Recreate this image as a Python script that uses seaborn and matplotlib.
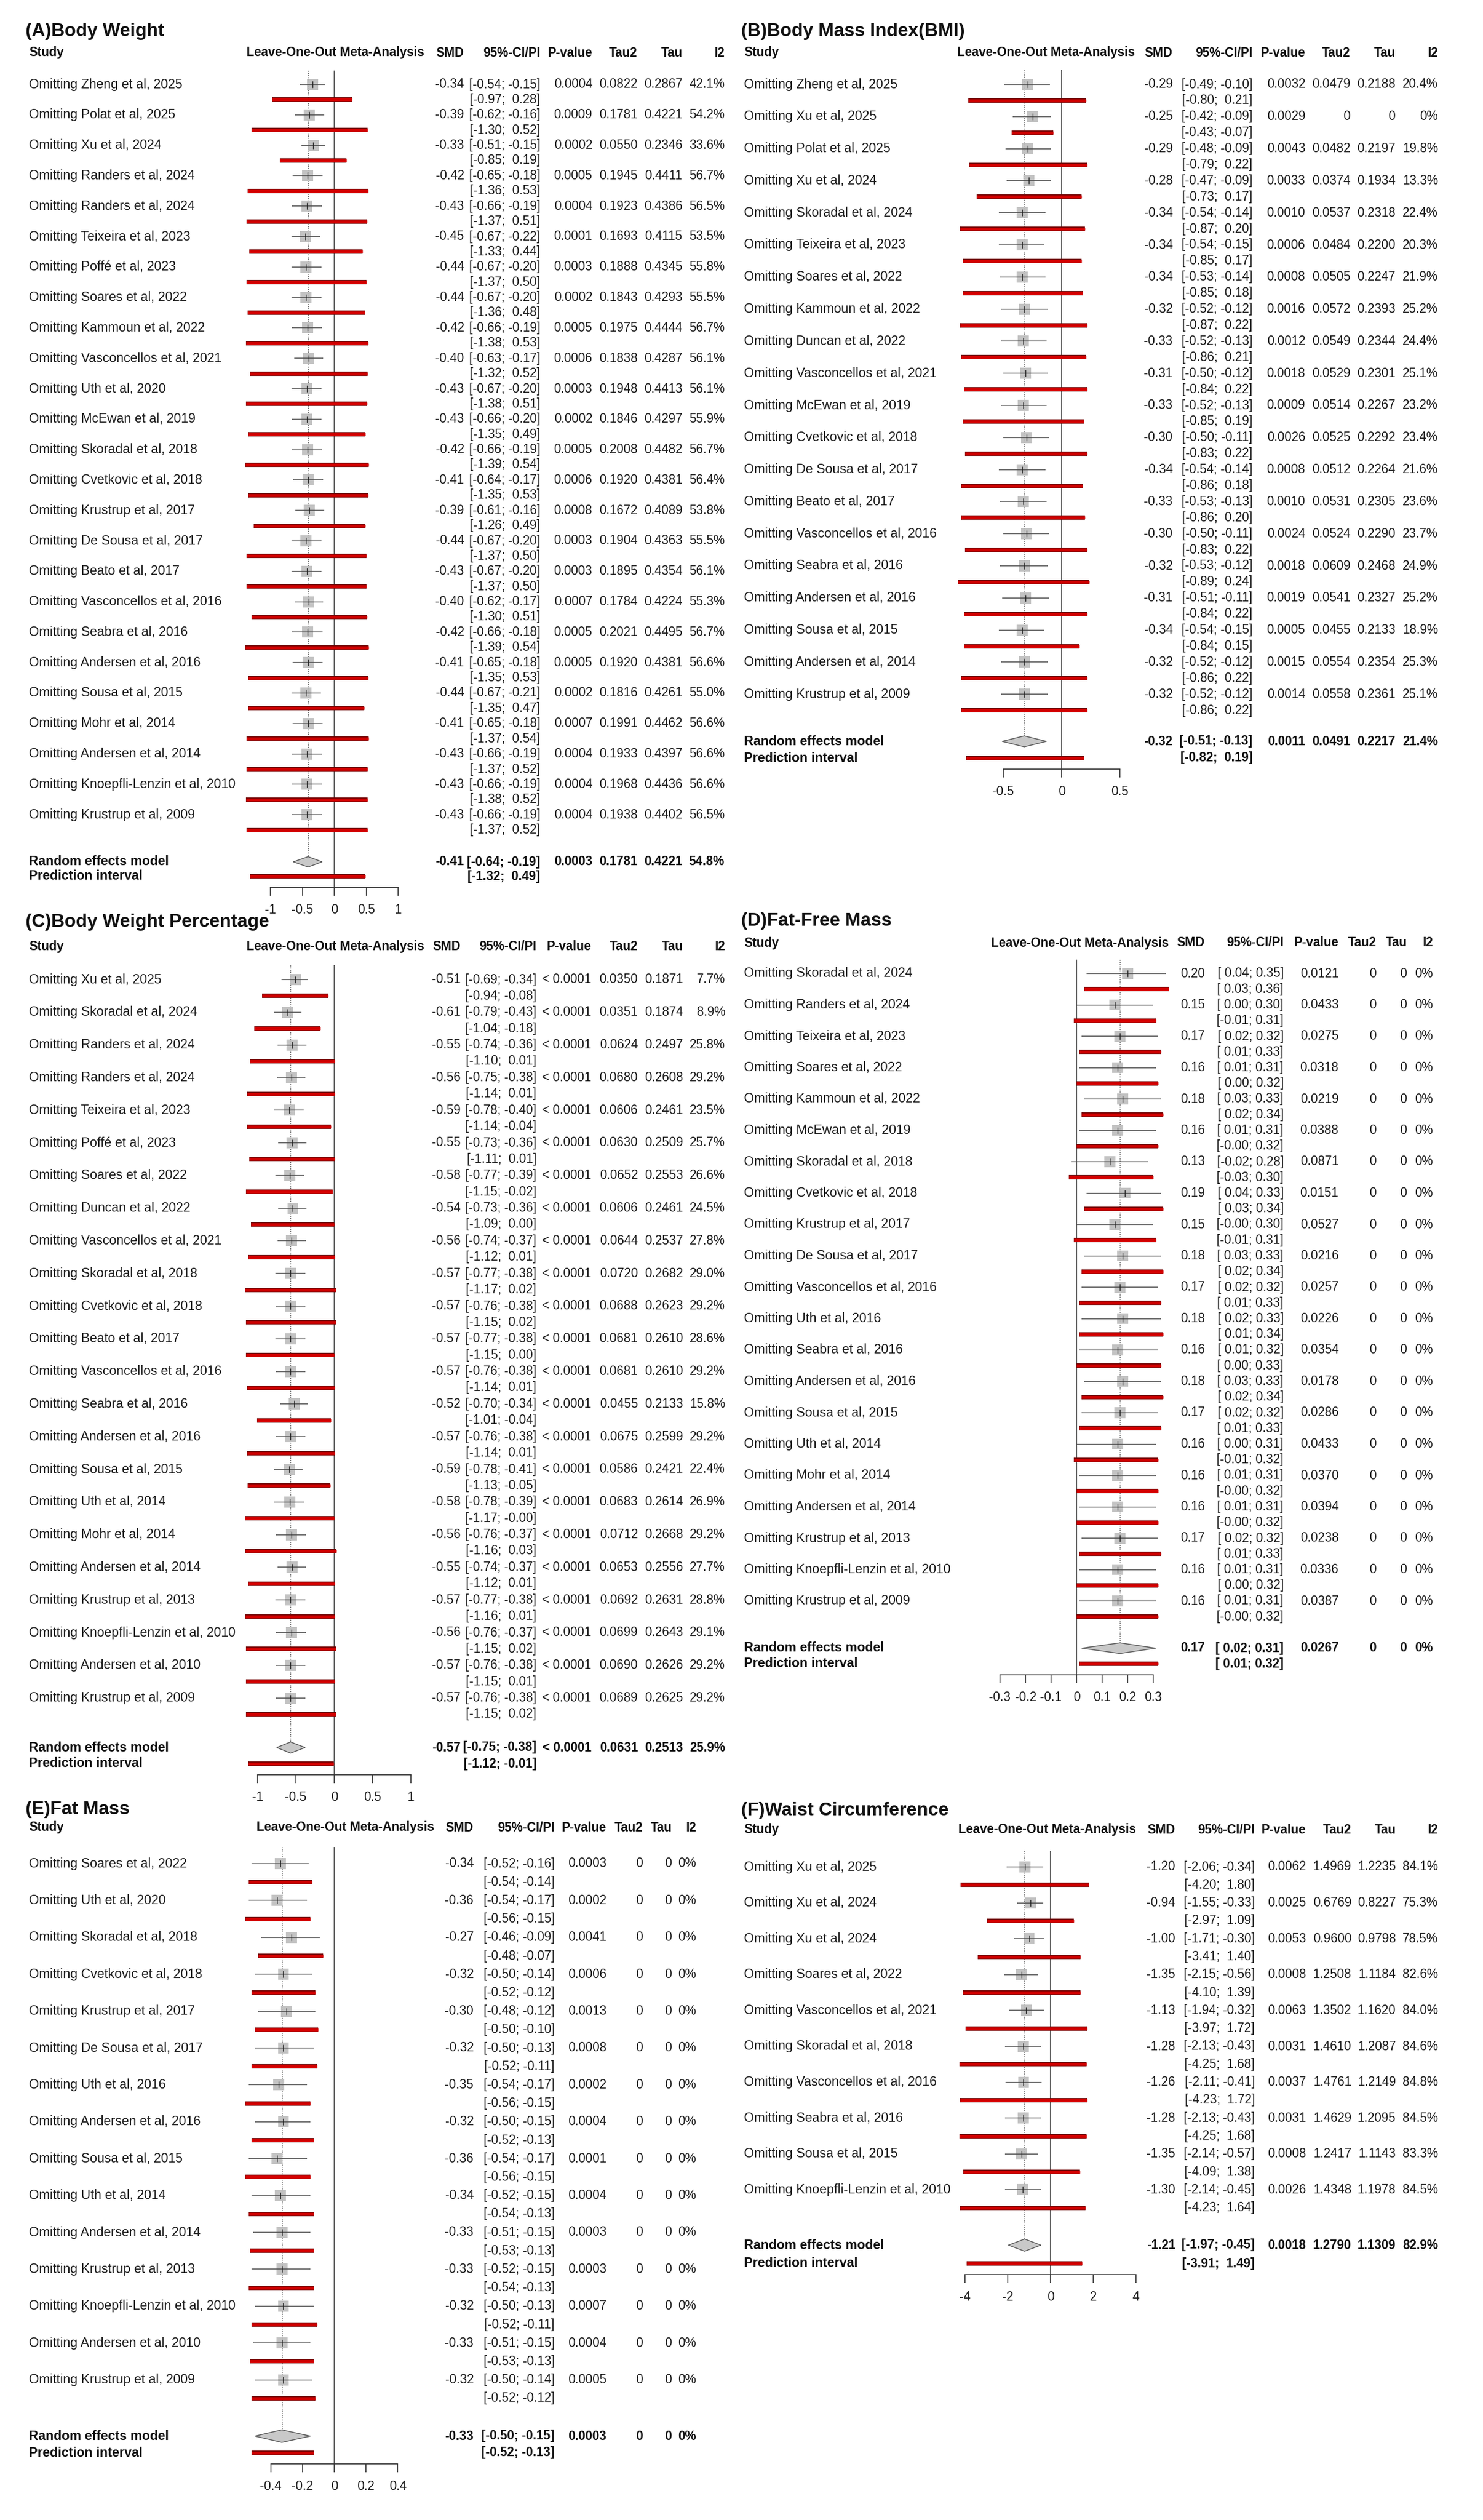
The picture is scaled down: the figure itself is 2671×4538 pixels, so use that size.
import numpy as np
import pandas as pd
import matplotlib
matplotlib.use("Agg")
import matplotlib.pyplot as plt
import matplotlib.patheffects as pe
from matplotlib.ticker import FuncFormatter
import seaborn as sns

# ============================ DATA ============================
# (A) Body Weight
A_studies = ["Zheng et al, 2025", "Polat et al, 2025", "Xu et al, 2024", "Randers et al, 2024",
             "Randers et al, 2024", "Teixeira et al, 2023", "Poffé et al, 2023", "Soares et al, 2022",
             "Kammoun et al, 2022", "Vasconcellos et al, 2021", "Uth et al, 2020", "McEwan et al, 2019",
             "Skoradal et al, 2018", "Cvetkovic et al, 2018", "Krustrup et al, 2017", "De Sousa et al, 2017",
             "Beato et al, 2017", "Vasconcellos et al, 2016", "Seabra et al, 2016", "Andersen et al, 2016",
             "Sousa et al, 2015", "Mohr et al, 2014", "Andersen et al, 2014", "Knoepfli-Lenzin et al, 2010",
             "Krustrup et al, 2009"]
A_smd = [-0.34, -0.39, -0.33, -0.42, -0.43, -0.45, -0.44, -0.44, -0.42, -0.40, -0.43, -0.43, -0.42,
         -0.41, -0.39, -0.44, -0.43, -0.40, -0.42, -0.41, -0.44, -0.41, -0.43, -0.43, -0.43]
A_ci_lo = [-0.54, -0.62, -0.51, -0.65, -0.66, -0.67, -0.67, -0.67, -0.66, -0.63, -0.67, -0.66, -0.66,
           -0.64, -0.61, -0.67, -0.67, -0.62, -0.66, -0.65, -0.67, -0.65, -0.66, -0.66, -0.66]
A_ci_hi = [-0.15, -0.16, -0.15, -0.18, -0.19, -0.22, -0.20, -0.20, -0.19, -0.17, -0.20, -0.20, -0.19,
           -0.17, -0.16, -0.20, -0.20, -0.17, -0.18, -0.18, -0.21, -0.18, -0.19, -0.19, -0.19]
A_pi_lo = [-0.97, -1.30, -0.85, -1.36, -1.37, -1.33, -1.37, -1.36, -1.38, -1.32, -1.38, -1.35, -1.39,
           -1.35, -1.26, -1.37, -1.37, -1.30, -1.39, -1.35, -1.35, -1.37, -1.37, -1.38, -1.37]
A_pi_hi = [0.28, 0.52, 0.19, 0.53, 0.51, 0.44, 0.50, 0.48, 0.53, 0.52, 0.51, 0.49, 0.54,
           0.53, 0.49, 0.50, 0.50, 0.51, 0.54, 0.53, 0.47, 0.54, 0.52, 0.52, 0.52]
A_p = ["0.0004", "0.0009", "0.0002", "0.0005", "0.0004", "0.0001", "0.0003", "0.0002", "0.0005",
       "0.0006", "0.0003", "0.0002", "0.0005", "0.0006", "0.0008", "0.0003", "0.0003", "0.0007",
       "0.0005", "0.0005", "0.0002", "0.0007", "0.0004", "0.0004", "0.0004"]
A_tau2 = [0.0822, 0.1781, 0.0550, 0.1945, 0.1923, 0.1693, 0.1888, 0.1843, 0.1975, 0.1838, 0.1948,
          0.1846, 0.2008, 0.1920, 0.1672, 0.1904, 0.1895, 0.1784, 0.2021, 0.1920, 0.1816, 0.1991,
          0.1933, 0.1968, 0.1938]
A_tau = [0.2867, 0.4221, 0.2346, 0.4411, 0.4386, 0.4115, 0.4345, 0.4293, 0.4444, 0.4287, 0.4413,
         0.4297, 0.4482, 0.4381, 0.4089, 0.4363, 0.4354, 0.4224, 0.4495, 0.4381, 0.4261, 0.4462,
         0.4397, 0.4436, 0.4402]
A_i2 = [42.1, 54.2, 33.6, 56.7, 56.5, 53.5, 55.8, 55.5, 56.7, 56.1, 56.1, 55.9, 56.7, 56.4, 53.8,
        55.5, 56.1, 55.3, 56.7, 56.6, 55.0, 56.6, 56.6, 56.6, 56.5]
A_re = [-0.41, -0.64, -0.19, -1.32, 0.49]      # smd, ci lo, ci hi, pi lo, pi hi
A_re_stats = ["0.0003", 0.1781, 0.4221, 54.8]  # p, tau2, tau, i2

# (B) Body Mass Index
B_studies = ["Zheng et al, 2025", "Xu et al, 2025", "Polat et al, 2025", "Xu et al, 2024",
             "Skoradal et al, 2024", "Teixeira et al, 2023", "Soares et al, 2022", "Kammoun et al, 2022",
             "Duncan et al, 2022", "Vasconcellos et al, 2021", "McEwan et al, 2019", "Cvetkovic et al, 2018",
             "De Sousa et al, 2017", "Beato et al, 2017", "Vasconcellos et al, 2016", "Seabra et al, 2016",
             "Andersen et al, 2016", "Sousa et al, 2015", "Andersen et al, 2014", "Krustrup et al, 2009"]
B_smd = [-0.29, -0.25, -0.29, -0.28, -0.34, -0.34, -0.34, -0.32, -0.33, -0.31, -0.33, -0.30, -0.34,
         -0.33, -0.30, -0.32, -0.31, -0.34, -0.32, -0.32]
B_ci_lo = [-0.49, -0.42, -0.48, -0.47, -0.54, -0.54, -0.53, -0.52, -0.52, -0.50, -0.52, -0.50, -0.54,
           -0.53, -0.50, -0.53, -0.51, -0.54, -0.52, -0.52]
B_ci_hi = [-0.10, -0.09, -0.09, -0.09, -0.14, -0.15, -0.14, -0.12, -0.13, -0.12, -0.13, -0.11, -0.14,
           -0.13, -0.11, -0.12, -0.11, -0.15, -0.12, -0.12]
B_pi_lo = [-0.80, -0.43, -0.79, -0.73, -0.87, -0.85, -0.85, -0.87, -0.86, -0.84, -0.85, -0.83, -0.86,
           -0.86, -0.83, -0.89, -0.84, -0.84, -0.86, -0.86]
B_pi_hi = [0.21, -0.07, 0.22, 0.17, 0.20, 0.17, 0.18, 0.22, 0.21, 0.22, 0.19, 0.22, 0.18,
           0.20, 0.22, 0.24, 0.22, 0.15, 0.22, 0.22]
B_p = ["0.0032", "0.0029", "0.0043", "0.0033", "0.0010", "0.0006", "0.0008", "0.0016", "0.0012",
       "0.0018", "0.0009", "0.0026", "0.0008", "0.0010", "0.0024", "0.0018", "0.0019", "0.0005",
       "0.0015", "0.0014"]
B_tau2 = [0.0479, 0, 0.0482, 0.0374, 0.0537, 0.0484, 0.0505, 0.0572, 0.0549, 0.0529, 0.0514, 0.0525,
          0.0512, 0.0531, 0.0524, 0.0609, 0.0541, 0.0455, 0.0554, 0.0558]
B_tau = [0.2188, 0, 0.2197, 0.1934, 0.2318, 0.2200, 0.2247, 0.2393, 0.2344, 0.2301, 0.2267, 0.2292,
         0.2264, 0.2305, 0.2290, 0.2468, 0.2327, 0.2133, 0.2354, 0.2361]
B_i2 = [20.4, 0, 19.8, 13.3, 22.4, 20.3, 21.9, 25.2, 24.4, 25.1, 23.2, 23.4, 21.6, 23.6, 23.7, 24.9,
        25.2, 18.9, 25.3, 25.1]
B_re = [-0.32, -0.51, -0.13, -0.82, 0.19]
B_re_stats = ["0.0011", 0.0491, 0.2217, 21.4]

# (C) Body Weight Percentage
C_studies = ["Xu et al, 2025", "Skoradal et al, 2024", "Randers et al, 2024", "Randers et al, 2024",
             "Teixeira et al, 2023", "Poffé et al, 2023", "Soares et al, 2022", "Duncan et al, 2022",
             "Vasconcellos et al, 2021", "Skoradal et al, 2018", "Cvetkovic et al, 2018", "Beato et al, 2017",
             "Vasconcellos et al, 2016", "Seabra et al, 2016", "Andersen et al, 2016", "Sousa et al, 2015",
             "Uth et al, 2014", "Mohr et al, 2014", "Andersen et al, 2014", "Krustrup et al, 2013",
             "Knoepfli-Lenzin et al, 2010", "Andersen et al, 2010", "Krustrup et al, 2009"]
C_smd = [-0.51, -0.61, -0.55, -0.56, -0.59, -0.55, -0.58, -0.54, -0.56, -0.57, -0.57, -0.57, -0.57,
         -0.52, -0.57, -0.59, -0.58, -0.56, -0.55, -0.57, -0.56, -0.57, -0.57]
C_ci_lo = [-0.69, -0.79, -0.74, -0.75, -0.78, -0.73, -0.77, -0.73, -0.74, -0.77, -0.76, -0.77, -0.76,
           -0.70, -0.76, -0.78, -0.78, -0.76, -0.74, -0.77, -0.76, -0.76, -0.76]
C_ci_hi = [-0.34, -0.43, -0.36, -0.38, -0.40, -0.36, -0.39, -0.36, -0.37, -0.38, -0.38, -0.38, -0.38,
           -0.34, -0.38, -0.41, -0.39, -0.37, -0.37, -0.38, -0.37, -0.38, -0.38]
C_pi_lo = [-0.94, -1.04, -1.10, -1.14, -1.14, -1.11, -1.15, -1.09, -1.12, -1.17, -1.15, -1.15, -1.14,
           -1.01, -1.14, -1.13, -1.17, -1.16, -1.12, -1.16, -1.15, -1.15, -1.15]
C_pi_hi = [-0.08, -0.18, 0.01, 0.01, -0.04, 0.01, -0.02, 0.00, 0.01, 0.02, 0.02, 0.00, 0.01,
           -0.04, 0.01, -0.05, -0.00, 0.03, 0.01, 0.01, 0.02, 0.01, 0.02]
C_p = ["< 0.0001"] * 23
C_tau2 = [0.0350, 0.0351, 0.0624, 0.0680, 0.0606, 0.0630, 0.0652, 0.0606, 0.0644, 0.0720, 0.0688,
          0.0681, 0.0681, 0.0455, 0.0675, 0.0586, 0.0683, 0.0712, 0.0653, 0.0692, 0.0699, 0.0690, 0.0689]
C_tau = [0.1871, 0.1874, 0.2497, 0.2608, 0.2461, 0.2509, 0.2553, 0.2461, 0.2537, 0.2682, 0.2623,
         0.2610, 0.2610, 0.2133, 0.2599, 0.2421, 0.2614, 0.2668, 0.2556, 0.2631, 0.2643, 0.2626, 0.2625]
C_i2 = [7.7, 8.9, 25.8, 29.2, 23.5, 25.7, 26.6, 24.5, 27.8, 29.0, 29.2, 28.6, 29.2, 15.8, 29.2, 22.4,
        26.9, 29.2, 27.7, 28.8, 29.1, 29.2, 29.2]
C_re = [-0.57, -0.75, -0.38, -1.12, -0.01]
C_re_stats = ["< 0.0001", 0.0631, 0.2513, 25.9]

# (D) Fat-Free Mass
D_studies = ["Skoradal et al, 2024", "Randers et al, 2024", "Teixeira et al, 2023", "Soares et al, 2022",
             "Kammoun et al, 2022", "McEwan et al, 2019", "Skoradal et al, 2018", "Cvetkovic et al, 2018",
             "Krustrup et al, 2017", "De Sousa et al, 2017", "Vasconcellos et al, 2016", "Uth et al, 2016",
             "Seabra et al, 2016", "Andersen et al, 2016", "Sousa et al, 2015", "Uth et al, 2014",
             "Mohr et al, 2014", "Andersen et al, 2014", "Krustrup et al, 2013",
             "Knoepfli-Lenzin et al, 2010", "Krustrup et al, 2009"]
D_smd = [0.20, 0.15, 0.17, 0.16, 0.18, 0.16, 0.13, 0.19, 0.15, 0.18, 0.17, 0.18, 0.16, 0.18, 0.17,
         0.16, 0.16, 0.16, 0.17, 0.16, 0.16]
D_ci_lo = [0.04, 0.00, 0.02, 0.01, 0.03, 0.01, -0.02, 0.04, -0.00, 0.03, 0.02, 0.02, 0.01, 0.03, 0.02,
           0.00, 0.01, 0.01, 0.02, 0.01, 0.01]
D_ci_hi = [0.35, 0.30, 0.32, 0.31, 0.33, 0.31, 0.28, 0.33, 0.30, 0.33, 0.32, 0.33, 0.32, 0.33, 0.32,
           0.31, 0.31, 0.31, 0.32, 0.31, 0.31]
D_pi_lo = [0.03, -0.01, 0.01, 0.00, 0.02, -0.00, -0.03, 0.03, -0.01, 0.02, 0.01, 0.01, 0.00, 0.02,
           0.01, -0.01, -0.00, -0.00, 0.01, 0.00, -0.00]
D_pi_hi = [0.36, 0.31, 0.33, 0.32, 0.34, 0.32, 0.30, 0.34, 0.31, 0.34, 0.33, 0.34, 0.33, 0.34, 0.33,
           0.32, 0.32, 0.32, 0.33, 0.32, 0.32]
D_p = ["0.0121", "0.0433", "0.0275", "0.0318", "0.0219", "0.0388", "0.0871", "0.0151", "0.0527",
       "0.0216", "0.0257", "0.0226", "0.0354", "0.0178", "0.0286", "0.0433", "0.0370", "0.0394",
       "0.0238", "0.0336", "0.0387"]
D_tau2 = [0] * 21
D_tau = [0] * 21
D_i2 = [0] * 21
D_re = [0.17, 0.02, 0.31, 0.01, 0.32]
D_re_stats = ["0.0267", 0, 0, 0]

# (E) Fat Mass
E_studies = ["Soares et al, 2022", "Uth et al, 2020", "Skoradal et al, 2018", "Cvetkovic et al, 2018",
             "Krustrup et al, 2017", "De Sousa et al, 2017", "Uth et al, 2016", "Andersen et al, 2016",
             "Sousa et al, 2015", "Uth et al, 2014", "Andersen et al, 2014", "Krustrup et al, 2013",
             "Knoepfli-Lenzin et al, 2010", "Andersen et al, 2010", "Krustrup et al, 2009"]
E_smd = [-0.34, -0.36, -0.27, -0.32, -0.30, -0.32, -0.35, -0.32, -0.36, -0.34, -0.33, -0.33, -0.32,
         -0.33, -0.32]
E_ci_lo = [-0.52, -0.54, -0.46, -0.50, -0.48, -0.50, -0.54, -0.50, -0.54, -0.52, -0.51, -0.52, -0.50,
           -0.51, -0.50]
E_ci_hi = [-0.16, -0.17, -0.09, -0.14, -0.12, -0.13, -0.17, -0.15, -0.17, -0.15, -0.15, -0.15, -0.13,
           -0.15, -0.14]
E_pi_lo = [-0.54, -0.56, -0.48, -0.52, -0.50, -0.52, -0.56, -0.52, -0.56, -0.54, -0.53, -0.54, -0.52,
           -0.53, -0.52]
E_pi_hi = [-0.14, -0.15, -0.07, -0.12, -0.10, -0.11, -0.15, -0.13, -0.15, -0.13, -0.13, -0.13, -0.11,
           -0.13, -0.12]
E_p = ["0.0003", "0.0002", "0.0041", "0.0006", "0.0013", "0.0008", "0.0002", "0.0004", "0.0001",
       "0.0004", "0.0003", "0.0003", "0.0007", "0.0004", "0.0005"]
E_tau2 = [0] * 15
E_tau = [0] * 15
E_i2 = [0] * 15
E_re = [-0.33, -0.50, -0.15, -0.52, -0.13]
E_re_stats = ["0.0003", 0, 0, 0]

# (F) Waist Circumference
F_studies = ["Xu et al, 2025", "Xu et al, 2024", "Xu et al, 2024", "Soares et al, 2022",
             "Vasconcellos et al, 2021", "Skoradal et al, 2018", "Vasconcellos et al, 2016",
             "Seabra et al, 2016", "Sousa et al, 2015", "Knoepfli-Lenzin et al, 2010"]
F_smd = [-1.20, -0.94, -1.00, -1.35, -1.13, -1.28, -1.26, -1.28, -1.35, -1.30]
F_ci_lo = [-2.06, -1.55, -1.71, -2.15, -1.94, -2.13, -2.11, -2.13, -2.14, -2.14]
F_ci_hi = [-0.34, -0.33, -0.30, -0.56, -0.32, -0.43, -0.41, -0.43, -0.57, -0.45]
F_pi_lo = [-4.20, -2.97, -3.41, -4.10, -3.97, -4.25, -4.23, -4.25, -4.09, -4.23]
F_pi_hi = [1.80, 1.09, 1.40, 1.39, 1.72, 1.68, 1.72, 1.68, 1.38, 1.64]
F_p = ["0.0062", "0.0025", "0.0053", "0.0008", "0.0063", "0.0031", "0.0037", "0.0031", "0.0008", "0.0026"]
F_tau2 = [1.4969, 0.6769, 0.9600, 1.2508, 1.3502, 1.4610, 1.4761, 1.4629, 1.2417, 1.4348]
F_tau = [1.2235, 0.8227, 0.9798, 1.1184, 1.1620, 1.2087, 1.2149, 1.2095, 1.1143, 1.1978]
F_i2 = [84.1, 75.3, 78.5, 82.6, 84.0, 84.6, 84.8, 84.5, 83.3, 84.5]
F_re = [-1.21, -1.97, -0.45, -3.91, 1.49]
F_re_stats = ["0.0018", 1.2790, 1.1309, 82.9]

titles = ["(A)Body Weight", "(B)Body Mass Index(BMI)", "(C)Body Weight Percentage",
          "(D)Fat-Free Mass", "(E)Fat Mass", "(F)Waist Circumference"]
ticks_A = [-1, -0.5, 0, 0.5, 1]
ticks_B = [-0.5, 0, 0.5]
ticks_C = [-1, -0.5, 0, 0.5, 1]
ticks_D = [-0.3, -0.2, -0.1, 0, 0.1, 0.2, 0.3]
ticks_E = [-0.4, -0.2, 0, 0.2, 0.4]
ticks_F = [-4, -2, 0, 2, 4]

# ============================ STYLE ============================
sns.set_theme(style="white")
plt.rcParams["font.family"] = ["Liberation Sans", "DejaVu Sans"]
plt.rcParams["axes.unicode_minus"] = False

W, H = 2671, 4538
fig = plt.figure(figsize=(W / 100, H / 100), dpi=100)
fig.patch.set_facecolor("white")

FS = 16.3      # numbers
NFS = 16.9     # study names / labels
TFS = 24
TXT = "#1e1e1e"


def fx(x):
    return x / W


def fy(y):
    return 1 - y / H


def f4(v):
    return "0" if v == 0 else f"{v:.4f}"


def fi2(v):
    return "0%" if v == 0 else f"{v:.1f}%"


def ci_strings(lo, hi):
    los = [f"{v:.2f}" for v in lo]
    his = [f"{v:.2f}" for v in hi]
    wl = max(len(s) for s in los)
    wh = max(len(s) for s in his)
    return [f"[{a.rjust(wl)}; {b.rjust(wh)}]" for a, b in zip(los, his)]


def draw_panel(title, studies, smd, ci_lo, ci_hi, pi_lo, pi_hi, pvals, tau2, tau, i2,
               re, re_stats, ticks, L):
    n = len(studies)
    sp = L["sp"]
    df = pd.DataFrame({"study": studies, "smd": smd, "lo": ci_lo, "hi": ci_hi,
                       "plo": pi_lo, "phi": pi_hi})
    df["y"] = L["row1"] + sp * np.arange(n)
    df["ypi"] = df["y"] + 0.5 * sp
    re_y, pi_y = L["re_y"], L["pi_y"]
    axis_y = pi_y + L.get("axgap", 20)
    top_y = L["row1"] - 0.45 * sp
    zero, unit = L["zero"], L["unit"]
    xlo, xhi = L["xlim"]
    left_px = zero + xlo * unit
    right_px = zero + xhi * unit

    ax = fig.add_axes([fx(left_px), fy(axis_y), (right_px - left_px) / W, (axis_y - top_y) / H])
    ax.set_xlim(xlo, xhi)
    ax.set_ylim(axis_y, top_y)
    ax.patch.set_alpha(0)

    dh = 0.17 * sp
    # reference lines
    ax.vlines(0, top_y, axis_y, color="#4a4a4a", lw=1.2, zorder=1)
    ax.vlines(re[0], top_y, re_y - dh, color="#555555", lw=1.0, linestyles=(0, (1.2, 1.6)), zorder=1)
    # prediction intervals (red)
    red_fx = [pe.Stroke(linewidth=5.6, foreground="#6e0000"), pe.Normal()]
    ax.hlines(df["ypi"], df["plo"], df["phi"], color="#d10000", lw=3.8, zorder=2,
              path_effects=red_fx, capstyle="butt")
    # squares + CI
    sns.scatterplot(data=df, x="smd", y="y", marker="s", s=L.get("sq", 205), color="#bdbdbd",
                    edgecolor="none", alpha=0.9, ax=ax, legend=False, zorder=3)
    ax.hlines(df["y"], df["lo"], df["hi"], color="#505050", lw=1.1, zorder=4)
    ax.vlines(df["smd"], df["y"] - 6, df["y"] + 6, color="#202020", lw=1.0, zorder=5)
    # overall diamond and its prediction interval
    ax.fill([re[1], re[0], re[2], re[0]], [re_y, re_y - dh, re_y, re_y + dh],
            facecolor="#c8c8c8", edgecolor="#5a5a5a", lw=1.1, zorder=3)
    ax.hlines([pi_y], [re[3]], [re[4]], color="#d10000", lw=3.8, zorder=2,
              path_effects=red_fx, capstyle="butt")

    # axis
    for s in ["left", "right", "top"]:
        ax.spines[s].set_visible(False)
    ax.spines["bottom"].set_bounds(ticks[0], ticks[-1])
    ax.spines["bottom"].set_color("#333333")
    ax.spines["bottom"].set_linewidth(1.2)
    ax.set_xticks(ticks)
    ax.xaxis.set_major_formatter(FuncFormatter(lambda v, p: f"{v:g}"))
    ax.set_yticks([])
    ax.set_xlabel("")
    ax.set_ylabel("")
    ax.tick_params(axis="x", direction="out", length=11, width=1.2, color="#333333",
                   pad=10, labelsize=FS, labelcolor=TXT, bottom=True)
    ax.grid(False)

    # ---- text ----
    fig.text(fx(L["title_x"]), fy(L["title_y"]), title, fontsize=TFS, fontweight="bold",
             ha="left", va="center", color="#111111")
    hy = fy(L["head_y"])
    hkw = dict(fontsize=FS, fontweight="bold", va="center", color="#111111")
    fig.text(fx(L["study_x"]), hy, "Study", ha="left", **hkw)
    fig.text(fx(L["loo_c"]), hy, "Leave-One-Out Meta-Analysis", ha="center", **hkw)
    fig.text(fx(L["smd_r"]), hy, "SMD", ha="right", **hkw)
    fig.text(fx(L["ci_r"]), hy, "95%-CI/PI", ha="right", **hkw)
    fig.text(fx(L["p_r"]), hy, "P-value", ha="right", **hkw)
    fig.text(fx(L["tau2_r"]), hy, "Tau2", ha="right", **hkw)
    fig.text(fx(L["tau_r"]), hy, "Tau", ha="right", **hkw)
    fig.text(fx(L["i2_r"]), hy, "I2", ha="right", **hkw)

    all_lo = list(ci_lo) + list(pi_lo) + [re[1], re[3]]
    all_hi = list(ci_hi) + list(pi_hi) + [re[2], re[4]]
    cis = ci_strings(all_lo, all_hi)
    ci_s, pi_s = cis[:n], cis[n:2 * n]
    re_ci_s, re_pi_s = cis[2 * n], cis[2 * n + 1]

    rkw = dict(fontsize=FS, va="center", color=TXT)
    for i in range(n):
        y = fy(df["y"].iloc[i])
        ypi = fy(df["ypi"].iloc[i])
        fig.text(fx(L["study_x"]), y, "Omitting " + studies[i], ha="left",
                 fontsize=NFS, va="center", color=TXT)
        fig.text(fx(L["smd_r"]), y, f"{smd[i]:.2f}", ha="right", **rkw)
        fig.text(fx(L["ci_r"]), y, ci_s[i], ha="right", **rkw)
        fig.text(fx(L["ci_r"]), ypi, pi_s[i], ha="right", **rkw)
        fig.text(fx(L["p_r"]), y, pvals[i], ha="right", **rkw)
        fig.text(fx(L["tau2_r"]), y, f4(tau2[i]), ha="right", **rkw)
        fig.text(fx(L["tau_r"]), y, f4(tau[i]), ha="right", **rkw)
        fig.text(fx(L["i2_r"]), y, fi2(i2[i]), ha="right", **rkw)

    bkw = dict(fontsize=FS, va="center", color="#111111", fontweight="bold")
    y, ypi = fy(re_y), fy(pi_y)
    fig.text(fx(L["study_x"]), y, "Random effects model", ha="left",
             fontsize=NFS, va="center", color="#111111", fontweight="bold")
    fig.text(fx(L["study_x"]), ypi, "Prediction interval", ha="left",
             fontsize=NFS, va="center", color="#111111", fontweight="bold")
    fig.text(fx(L["smd_r"]), y, f"{re[0]:.2f}", ha="right", **bkw)
    fig.text(fx(L["ci_r"]), y, re_ci_s, ha="right", **bkw)
    fig.text(fx(L["ci_r"]), ypi, re_pi_s, ha="right", **bkw)
    fig.text(fx(L["p_r"]), y, re_stats[0], ha="right", **bkw)
    fig.text(fx(L["tau2_r"]), y, f4(re_stats[1]), ha="right", **bkw)
    fig.text(fx(L["tau_r"]), y, f4(re_stats[2]), ha="right", **bkw)
    fig.text(fx(L["i2_r"]), y, fi2(re_stats[3]), ha="right", **bkw)


# ============================ LAYOUT (pixels) ============================
LA = dict(title_x=46, title_y=57, head_y=95, study_x=52, row1=152, sp=54.8, re_y=1552, pi_y=1578,
          zero=602, unit=115, xlim=(-1.45, 1.06), loo_c=604,
          smd_r=836, ci_r=973, p_r=1067, tau2_r=1148, tau_r=1229, i2_r=1305)
LB = dict(title_x=1335, title_y=57, head_y=95, study_x=1340, row1=152, sp=57.8, re_y=1335, pi_y=1365,
          zero=1912, unit=210, xlim=(-0.93, 0.6), loo_c=1884,
          smd_r=2112, ci_r=2256, p_r=2351, tau2_r=2432, tau_r=2513, i2_r=2590)
LC = dict(title_x=46, title_y=1661, head_y=1704, study_x=52, row1=1764, sp=58.8, re_y=3147, pi_y=3176,
          zero=602, unit=138, xlim=(-1.22, 1.06), loo_c=604,
          smd_r=830, ci_r=966, p_r=1065, tau2_r=1149, tau_r=1230, i2_r=1306)
LD = dict(title_x=1335, title_y=1658, head_y=1698, study_x=1340, row1=1753, sp=56.5, re_y=2968, pi_y=2996,
          zero=1939, unit=460, xlim=(-0.33, 0.38), loo_c=1945,
          smd_r=2170, ci_r=2312, p_r=2411, tau2_r=2479, tau_r=2534, i2_r=2581)
LE = dict(title_x=46, title_y=3258, head_y=3291, study_x=52, row1=3356, sp=66.4, re_y=4387, pi_y=4417,
          zero=602, unit=286, xlim=(-0.6, 0.43), loo_c=622,
          smd_r=853, ci_r=999, p_r=1092, tau2_r=1158, tau_r=1210, i2_r=1254)
LF = dict(title_x=1335, title_y=3260, head_y=3295, study_x=1340, row1=3362, sp=64.6, re_y=4043, pi_y=4076,
          zero=1892, unit=38.5, xlim=(-4.45, 4.3), loo_c=1886,
          smd_r=2117, ci_r=2260, p_r=2352, tau2_r=2434, tau_r=2514, i2_r=2590)

draw_panel(titles[0], A_studies, A_smd, A_ci_lo, A_ci_hi, A_pi_lo, A_pi_hi, A_p, A_tau2, A_tau, A_i2,
           A_re, A_re_stats, ticks_A, LA)
draw_panel(titles[1], B_studies, B_smd, B_ci_lo, B_ci_hi, B_pi_lo, B_pi_hi, B_p, B_tau2, B_tau, B_i2,
           B_re, B_re_stats, ticks_B, LB)
draw_panel(titles[2], C_studies, C_smd, C_ci_lo, C_ci_hi, C_pi_lo, C_pi_hi, C_p, C_tau2, C_tau, C_i2,
           C_re, C_re_stats, ticks_C, LC)
draw_panel(titles[3], D_studies, D_smd, D_ci_lo, D_ci_hi, D_pi_lo, D_pi_hi, D_p, D_tau2, D_tau, D_i2,
           D_re, D_re_stats, ticks_D, LD)
draw_panel(titles[4], E_studies, E_smd, E_ci_lo, E_ci_hi, E_pi_lo, E_pi_hi, E_p, E_tau2, E_tau, E_i2,
           E_re, E_re_stats, ticks_E, LE)
draw_panel(titles[5], F_studies, F_smd, F_ci_lo, F_ci_hi, F_pi_lo, F_pi_hi, F_p, F_tau2, F_tau, F_i2,
           F_re, F_re_stats, ticks_F, LF)

fig.savefig("out.png", dpi=100, facecolor="white")
